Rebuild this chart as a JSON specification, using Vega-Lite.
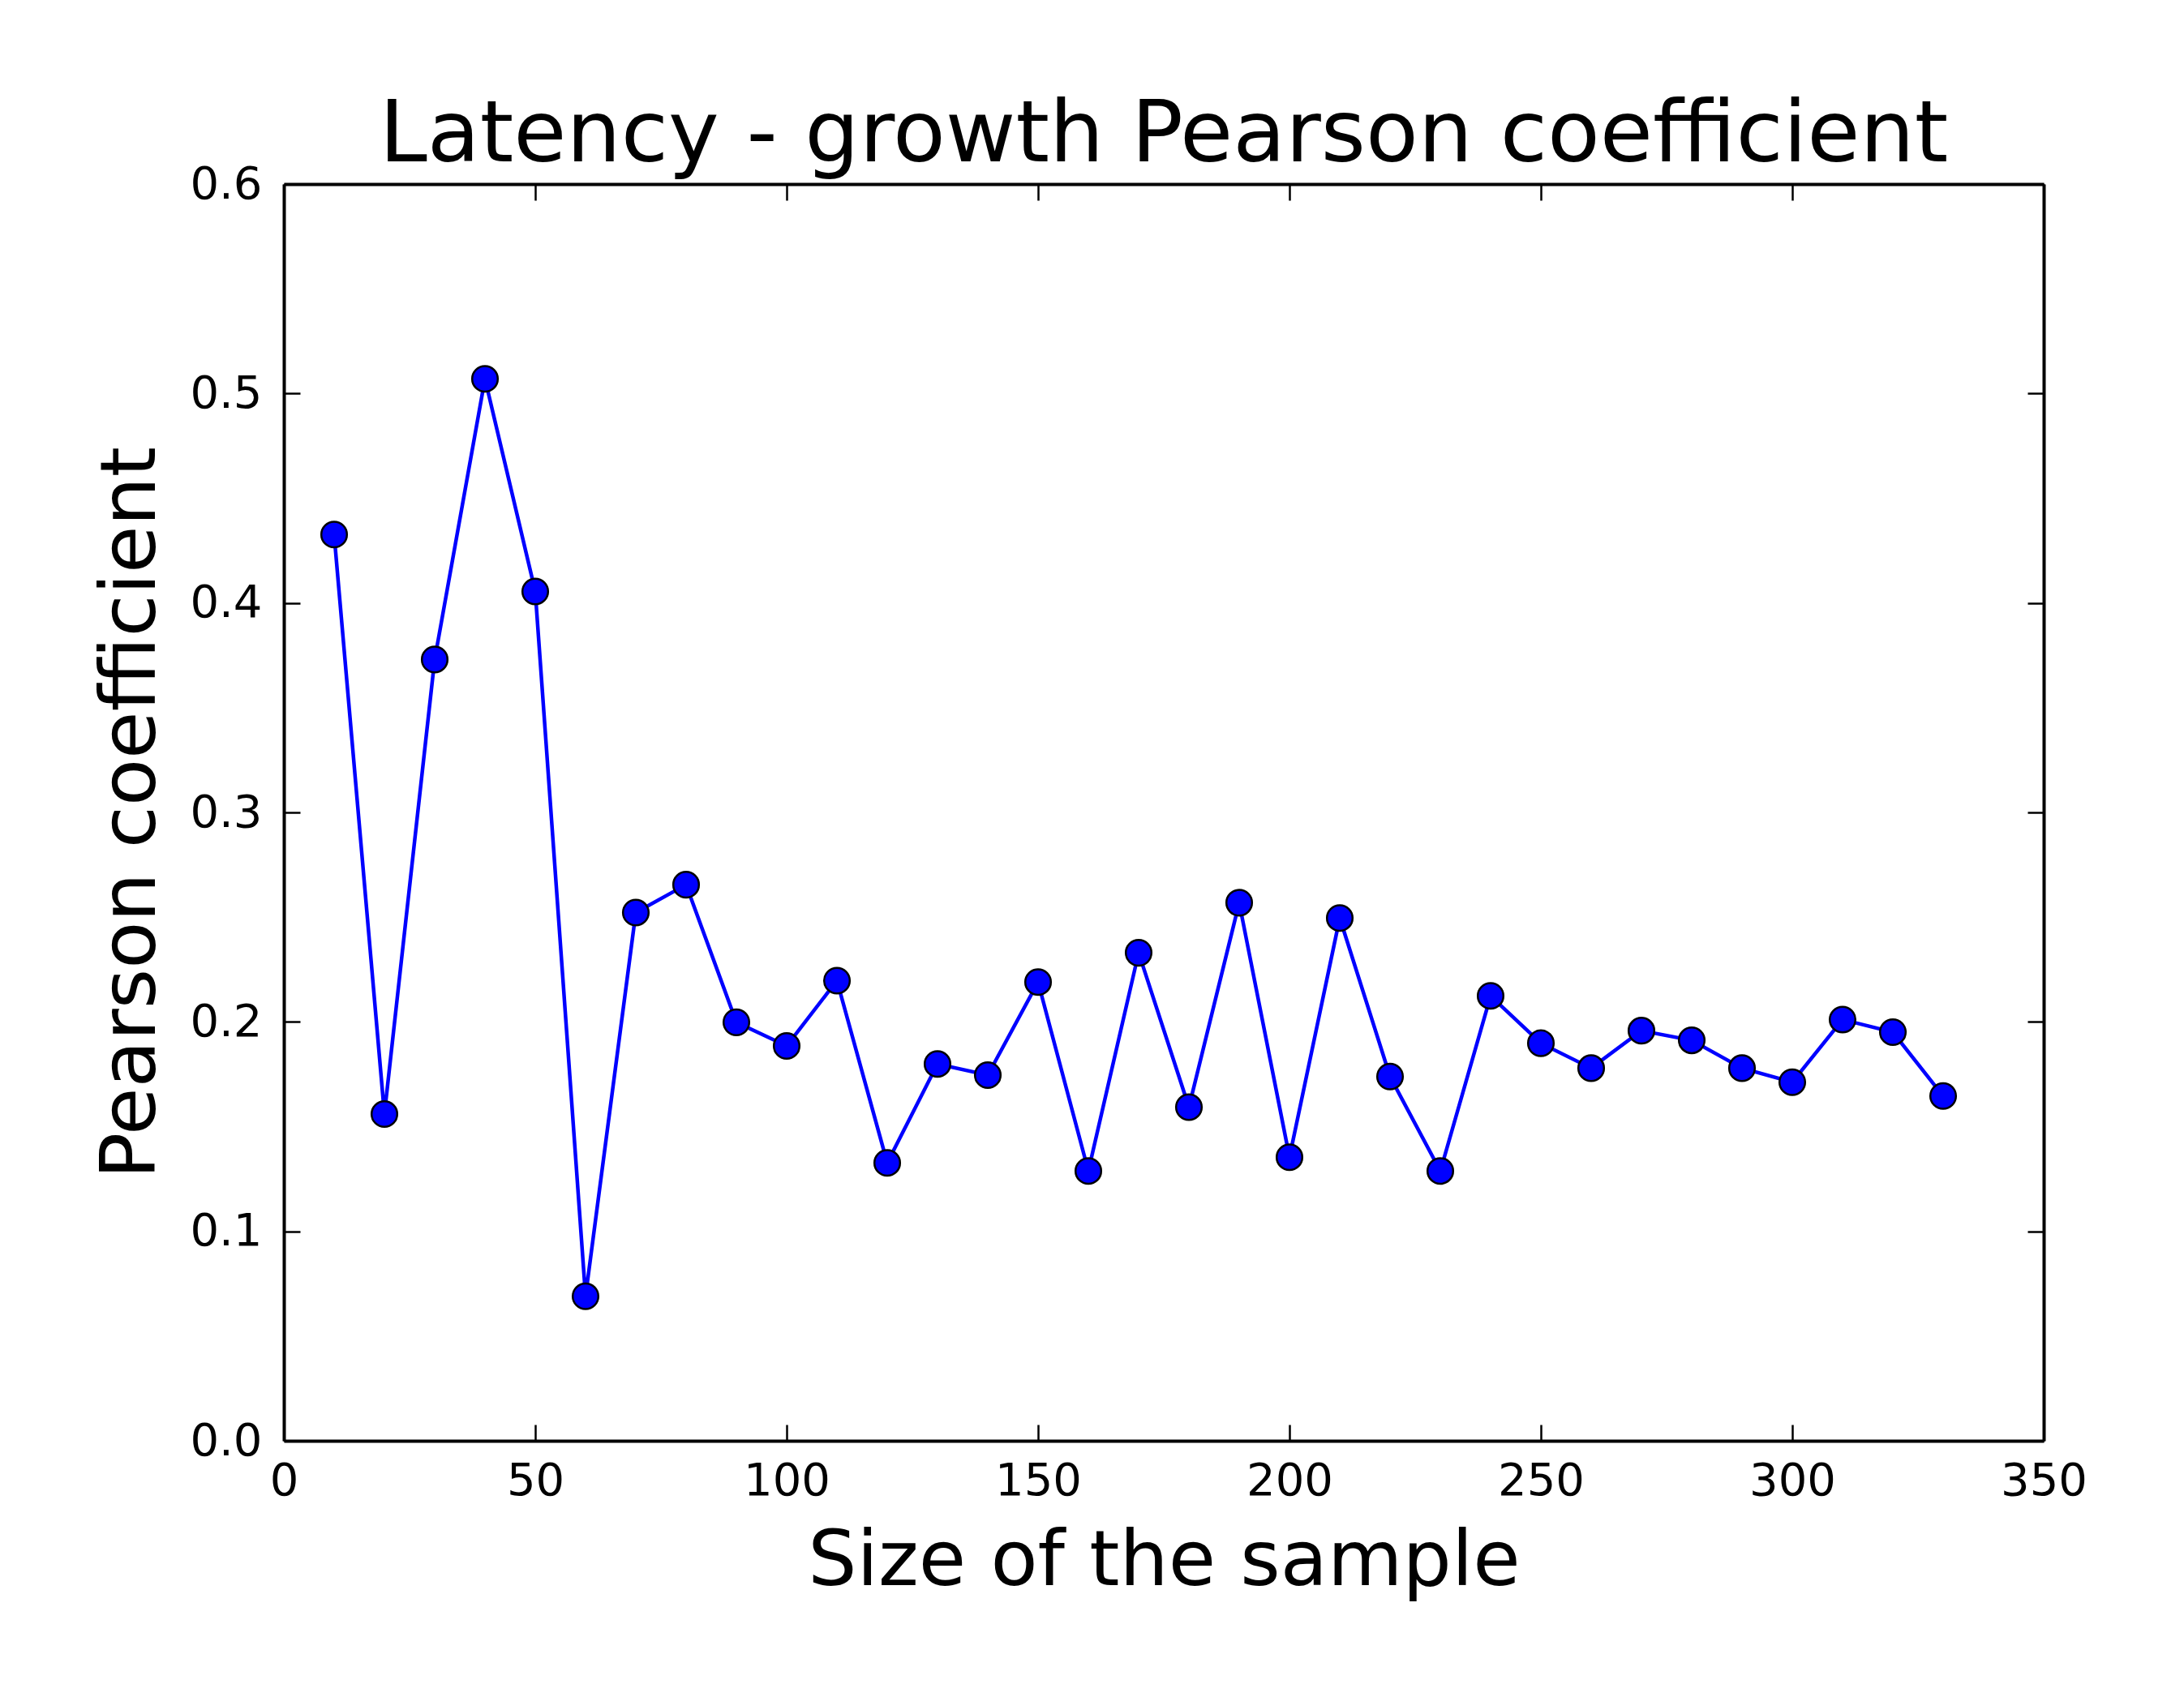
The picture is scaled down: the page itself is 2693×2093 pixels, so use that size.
{
  "$schema": "https://vega.github.io/schema/vega-lite/v6.json",
  "width": 2170,
  "height": 1550,
  "autosize": {"type": "none"},
  "padding": {"left": 350, "top": 227, "right": 173, "bottom": 316},
  "background": "white",
  "config": {
    "font": "DejaVu Sans",
    "view": {"stroke": null},
    "axis": {
      "domainColor": "black",
      "domainWidth": 4,
      "tickColor": "black",
      "tickWidth": 2.5,
      "tickSize": -20,
      "grid": false,
      "labelFont": "DejaVu Sans",
      "labelFontSize": 56,
      "labelColor": "black",
      "labelFlush": false,
      "labelOverlap": false,
      "titleFont": "DejaVu Sans",
      "titleFontSize": 95,
      "titleFontWeight": "normal",
      "titleColor": "black"
    }
  },
  "title": {
    "text": "Latency - growth Pearson coefficient",
    "fontSize": 106,
    "fontWeight": "normal",
    "font": "DejaVu Sans",
    "color": "black",
    "anchor": "middle",
    "baseline": "alphabetic",
    "offset": 26,
    "dy": 132
  },
  "data": {
    "values": [
      {"size": 10, "r": 0.4327},
      {"size": 20, "r": 0.156},
      {"size": 30, "r": 0.373},
      {"size": 40, "r": 0.507},
      {"size": 50, "r": 0.4055},
      {"size": 60, "r": 0.069},
      {"size": 70, "r": 0.2522},
      {"size": 80, "r": 0.2655},
      {"size": 90, "r": 0.1998},
      {"size": 100, "r": 0.1885},
      {"size": 110, "r": 0.2197},
      {"size": 120, "r": 0.1327},
      {"size": 130, "r": 0.1799},
      {"size": 140, "r": 0.1746},
      {"size": 150, "r": 0.219},
      {"size": 160, "r": 0.1288},
      {"size": 170, "r": 0.233},
      {"size": 180, "r": 0.1593},
      {"size": 190, "r": 0.2569},
      {"size": 200, "r": 0.1354},
      {"size": 210, "r": 0.2496},
      {"size": 220, "r": 0.1739},
      {"size": 230, "r": 0.1288},
      {"size": 240, "r": 0.2124},
      {"size": 250, "r": 0.1898},
      {"size": 260, "r": 0.1779},
      {"size": 270, "r": 0.1958},
      {"size": 280, "r": 0.1912},
      {"size": 290, "r": 0.1779},
      {"size": 300, "r": 0.1712},
      {"size": 310, "r": 0.2011},
      {"size": 320, "r": 0.1951},
      {"size": 330, "r": 0.1646}
    ]
  },
  "layer": [
    {
      "mark": {"type": "line", "color": "#0000ff", "strokeWidth": 4.5},
      "encoding": {
        "x": {
          "field": "size", "type": "quantitative",
          "scale": {"domain": [0, 350], "nice": false, "zero": false},
          "axis": {
            "orient": "bottom",
            "values": [0, 50, 100, 150, 200, 250, 300, 350],
            "title": "Size of the sample",
            "labelBaseline": "alphabetic",
            "labelPadding": 86,
            "titleX": 1085,
            "titleY": 177,
            "titleBaseline": "alphabetic",
            "titleAlign": "center",
            "titleAnchor": null
          }
        },
        "y": {
          "field": "r", "type": "quantitative",
          "scale": {"domain": [0, 0.6], "nice": false, "zero": false},
          "axis": {
            "orient": "left",
            "values": [0, 0.1, 0.2, 0.3, 0.4, 0.5, 0.6],
            "format": ".1f",
            "title": "Pearson coefficient",
            "labelPadding": 47,
            "titleX": -160,
            "titleY": 775,
            "titleAngle": -90,
            "titleBaseline": "alphabetic",
            "titleAlign": "center",
            "titleAnchor": null
          }
        }
      }
    },
    {
      "mark": {"type": "circle", "fill": "#0000ff", "stroke": "black", "strokeWidth": 2.5, "size": 1000, "opacity": 1},
      "encoding": {
        "x": {"field": "size", "type": "quantitative", "axis": null},
        "y": {"field": "r", "type": "quantitative", "axis": null}
      }
    },
    {
      "mark": {"type": "circle", "opacity": 0},
      "encoding": {
        "x": {
          "field": "size", "type": "quantitative",
          "axis": {"orient": "top", "labels": false, "title": null, "values": [0, 50, 100, 150, 200, 250, 300, 350]}
        },
        "y": {
          "field": "r", "type": "quantitative",
          "axis": {"orient": "right", "labels": false, "title": null, "values": [0, 0.1, 0.2, 0.3, 0.4, 0.5, 0.6]}
        }
      }
    }
  ],
  "resolve": {"axis": {"x": "independent", "y": "independent"}}
}
